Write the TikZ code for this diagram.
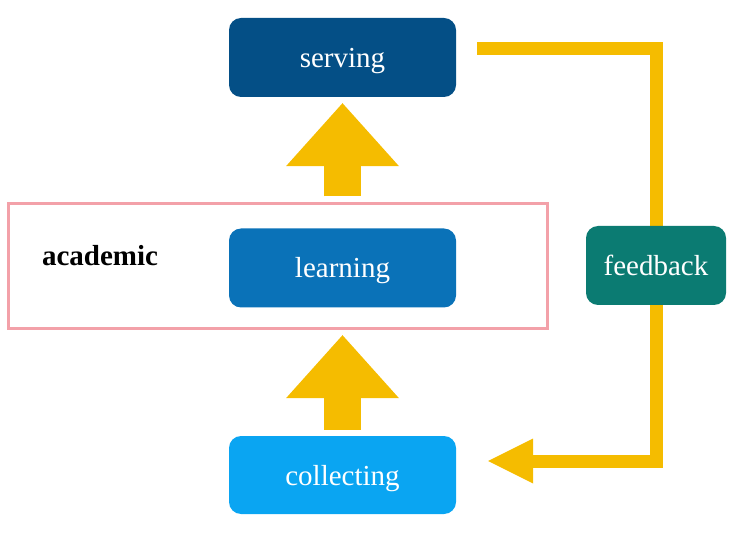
\documentclass[tikz,border=0pt]{standalone}
\usepackage{fontspec}
\setmainfont{Liberation Serif}
\usetikzlibrary{arrows.meta,calc,backgrounds}
\definecolor{cserv}{HTML}{044F86}
\definecolor{clearn}{HTML}{0A72B8}
\definecolor{ccoll}{HTML}{0AA5F2}
\definecolor{cfeed}{HTML}{0B7B72}
\definecolor{cyel}{HTML}{F5BC00}
\definecolor{cpink}{HTML}{F3A1A9}
\tikzset{
  stage/.style={rounded corners=12pt, minimum width=227pt, minimum height=79pt,
    text=white, font=\fontsize{29}{34}\selectfont, inner sep=0pt,
    text height=21pt, text depth=1pt},
  blockarrow/.style={cyel, line width=37pt,
    -{Triangle[length=63pt,width=113pt,line width=0pt]}},
  fbline/.style={cyel, line width=13pt,
    -{Triangle[length=45pt,width=45pt,line width=0pt]}},
  groupbox/.style={draw=cpink, line width=3pt},
}
\begin{document}
\begin{tikzpicture}[x=1pt,y=1pt]
\useasboundingbox (0,0) rectangle (749,533);
\node[groupbox, minimum width=539pt, minimum height=125pt, inner sep=0pt] (acad) at (277.5,266.5) {};
\node[font=\bfseries\fontsize{29}{34}\selectfont] (acadlbl) at (100,277) {academic};
\node[stage, fill=cserv] (serving) at (342.5,475.5) {serving};
\node[stage, fill=clearn] (learning) at (342.5,265) {learning};
\node[stage, fill=ccoll, minimum height=78pt] (collecting) at (342.5,58) {collecting};
\node[stage, fill=cfeed, minimum width=140pt] (feedback) at (656,267.5) {feedback};
\draw[blockarrow] ($(learning.north)+(0,32)$) -- ($(serving.south)+(0,-6)$);
\draw[blockarrow] ($(collecting.north)+(0,6)$) -- ($(learning.south)+(0,-27.5)$);
\begin{scope}[on background layer]
\draw[fbline] ($(serving.east)+(21,8.5)$) -| ($(feedback.center)+(0.5,0)$) |- ($(collecting.east)+(32,14)$);
\end{scope}
\end{tikzpicture}
\end{document}
